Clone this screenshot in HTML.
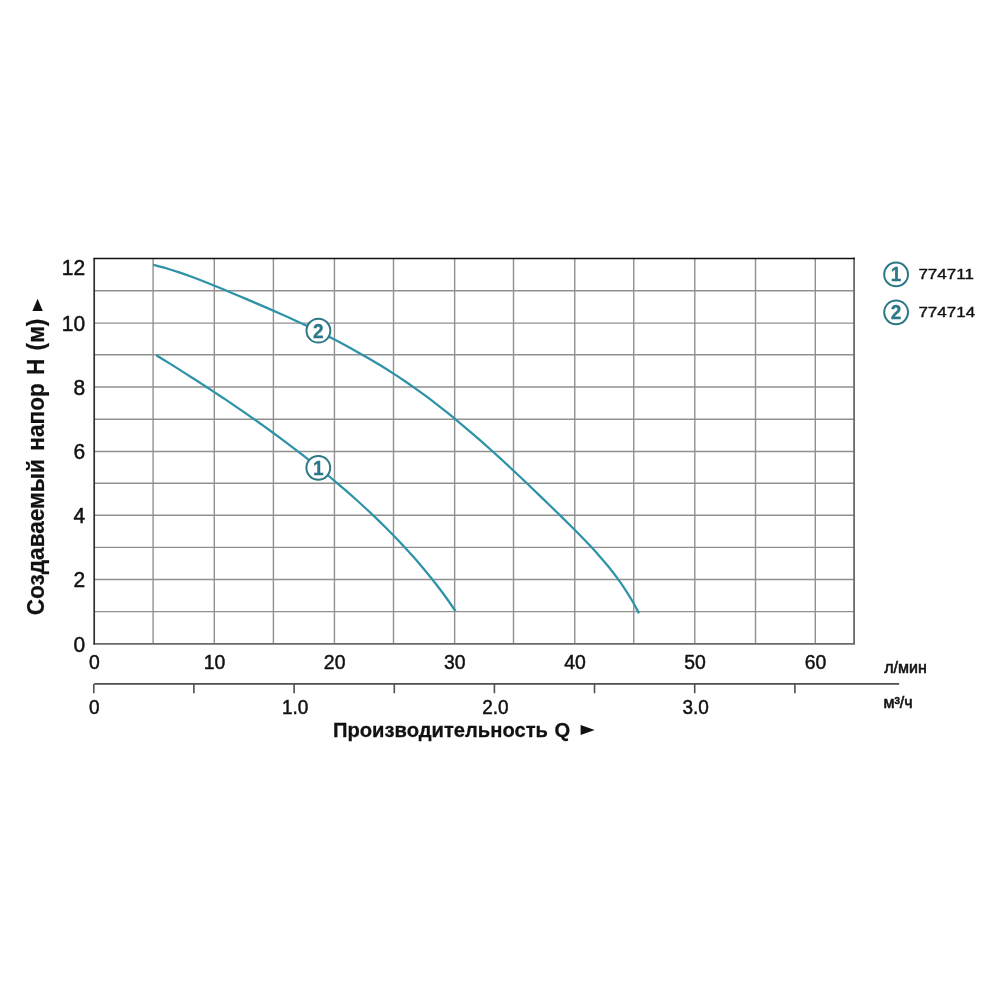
<!DOCTYPE html><html><head><meta charset="utf-8"><title>Chart</title><style>html,body{margin:0;padding:0;background:#fff}svg{display:block}text{font-family:"Liberation Sans",Arial,sans-serif}</style></head><body>
<svg width="1000" height="1000" viewBox="0 0 1000 1000">
<rect width="1000" height="1000" fill="#fff"/>
<path d="M153.10 258.5V643.8M214.30 258.5V643.8M273.40 258.5V643.8M334.45 258.5V643.8M393.50 258.5V643.8M454.65 258.5V643.8M513.50 258.5V643.8M574.75 258.5V643.8M633.75 258.5V643.8M694.80 258.5V643.8M755.50 258.5V643.8M815.30 258.5V643.8M94.2 290.70H854.0M94.2 323.10H854.0M94.2 354.80H854.0M94.2 387.00H854.0M94.2 419.20H854.0M94.2 451.45H854.0M94.2 483.20H854.0M94.2 515.20H854.0M94.2 547.40H854.0M94.2 579.50H854.0M94.2 611.60H854.0" stroke="#909090" stroke-width="1.4" fill="none"/>
<path d="M94.2 643.8H854.1V258.5" fill="none" stroke="#6a6a6a" stroke-width="1.8" stroke-linejoin="miter" stroke-linecap="square"/>
<path d="M94.2 644.5999999999999V258.5" fill="none" stroke="#303030" stroke-width="1.7"/>
<path d="M93.35000000000001 258.5H854.9" fill="none" stroke="#111" stroke-width="1.6"/>
<path d="M94.2 683.9H899.2M93.8 683.9V693.2M193.9 683.9V693.2M294.1 683.9V693.2M394.3 683.9V693.2M494.4 683.9V693.2M594.5 683.9V693.2M694.7 683.9V693.2M794.9 683.9V693.2" stroke="#505050" stroke-width="1.6" fill="none"/>
<path d="M153.14 264.72C155.31 265.30 161.83 266.95 166.18 268.22C170.53 269.49 174.88 270.88 179.22 272.34C183.57 273.79 187.92 275.36 192.26 276.96C196.60 278.57 200.94 280.26 205.28 281.97C209.61 283.69 213.94 285.47 218.27 287.25C222.59 289.03 226.92 290.86 231.23 292.67C235.54 294.49 239.84 296.31 244.14 298.14C248.44 299.96 252.72 301.78 257.00 303.61C261.28 305.45 265.54 307.29 269.80 309.14C274.05 311.00 278.30 312.86 282.53 314.75C286.75 316.64 290.97 318.54 295.17 320.47C299.37 322.40 303.56 324.35 307.73 326.34C311.90 328.32 316.05 330.33 320.19 332.38C324.32 334.42 328.44 336.49 332.54 338.60C336.64 340.71 340.72 342.84 344.77 345.02C348.83 347.20 352.87 349.40 356.88 351.65C360.90 353.90 364.89 356.18 368.86 358.50C372.82 360.82 376.77 363.18 380.69 365.58C384.60 367.99 388.50 370.43 392.36 372.91C396.23 375.40 400.07 377.92 403.88 380.50C407.69 383.07 411.47 385.69 415.22 388.35C418.97 391.01 422.69 393.72 426.39 396.47C430.09 399.22 433.75 402.02 437.40 404.85C441.05 407.68 444.67 410.56 448.28 413.46C451.89 416.37 455.48 419.31 459.05 422.28C462.62 425.25 466.18 428.26 469.72 431.29C473.26 434.32 476.78 437.38 480.29 440.45C483.79 443.53 487.29 446.64 490.76 449.76C494.24 452.88 497.70 456.03 501.15 459.19C504.59 462.35 508.02 465.52 511.44 468.71C514.86 471.89 518.26 475.09 521.64 478.30C525.03 481.50 528.40 484.72 531.76 487.94C535.12 491.15 538.46 494.38 541.79 497.60C545.12 500.82 548.44 504.05 551.74 507.27C555.04 510.49 558.33 513.70 561.61 516.91C564.88 520.13 568.15 523.32 571.38 526.54C574.61 529.76 577.83 532.98 581.00 536.24C584.18 539.49 587.32 542.76 590.42 546.08C593.51 549.40 596.57 552.75 599.56 556.16C602.55 559.58 605.50 563.03 608.37 566.58C611.24 570.12 614.05 573.71 616.78 577.41C619.51 581.11 622.17 584.87 624.74 588.76C627.31 592.64 629.80 596.60 632.18 600.70C634.56 604.80 637.90 611.23 639.04 613.34" stroke="#2e92a8" stroke-width="2.25" fill="none"/>
<path d="M156.27 355.18C158.20 356.38 164.01 359.96 167.87 362.37C171.73 364.78 175.59 367.20 179.44 369.63C183.30 372.07 187.14 374.51 190.98 376.97C194.82 379.42 198.66 381.89 202.48 384.37C206.31 386.85 210.13 389.35 213.93 391.86C217.74 394.37 221.54 396.89 225.33 399.43C229.12 401.98 232.91 404.53 236.67 407.10C240.44 409.68 244.20 412.26 247.95 414.87C251.70 417.48 255.43 420.10 259.15 422.74C262.87 425.39 266.58 428.05 270.28 430.73C273.97 433.41 277.65 436.11 281.32 438.83C284.98 441.55 288.63 444.29 292.27 447.05C295.90 449.81 299.52 452.59 303.12 455.40C306.72 458.20 310.31 461.03 313.87 463.88C317.43 466.73 320.98 469.60 324.51 472.50C328.04 475.40 331.55 478.32 335.03 481.27C338.52 484.22 341.99 487.19 345.43 490.19C348.88 493.19 352.30 496.21 355.70 499.26C359.11 502.31 362.49 505.39 365.84 508.50C369.19 511.61 372.52 514.74 375.82 517.91C379.12 521.07 382.39 524.26 385.63 527.49C388.86 530.71 392.07 533.97 395.24 537.25C398.41 540.54 401.55 543.85 404.65 547.20C407.74 550.55 410.80 553.93 413.82 557.34C416.84 560.76 419.81 564.21 422.74 567.69C425.67 571.17 428.56 574.69 431.40 578.24C434.24 581.79 437.03 585.38 439.77 589.00C442.51 592.62 445.20 596.28 447.83 599.98C450.47 603.68 454.28 609.32 455.57 611.18" stroke="#2e92a8" stroke-width="2.25" fill="none"/>
<circle cx="318.4" cy="330.7" r="11.9" fill="#fff" stroke="#2b7886" stroke-width="2"/><text transform="translate(318.40 337.60) scale(1 1.045)" font-size="19" text-anchor="middle" font-weight="bold" fill="#2b7886" stroke="#2b7886" stroke-width="0.3">2</text>
<circle cx="318.3" cy="467.8" r="11.9" fill="#fff" stroke="#2b7886" stroke-width="2"/><text transform="translate(318.30 474.70) scale(1 1.045)" font-size="19" text-anchor="middle" font-weight="bold" fill="#2b7886" stroke="#2b7886" stroke-width="0.3">1</text>
<circle cx="896.1" cy="274.4" r="11.9" fill="#fff" stroke="#2b7886" stroke-width="2"/><text transform="translate(896.10 281.30) scale(1 1.045)" font-size="19" text-anchor="middle" font-weight="bold" fill="#2b7886" stroke="#2b7886" stroke-width="0.3">1</text>
<circle cx="896.1" cy="312.3" r="11.9" fill="#fff" stroke="#2b7886" stroke-width="2"/><text transform="translate(896.10 319.20) scale(1 1.045)" font-size="19" text-anchor="middle" font-weight="bold" fill="#2b7886" stroke="#2b7886" stroke-width="0.3">2</text>
<text transform="translate(918.40 279.30) scale(1 0.895)" font-size="17" fill="#111" stroke="#111" stroke-width="0.45">774711</text>
<text transform="translate(918.40 317.20) scale(1 0.895)" font-size="17" fill="#111" stroke="#111" stroke-width="0.45">774714</text>
<text transform="translate(85.20 275.20) scale(1 1.045)" font-size="21" text-anchor="end" fill="#111" stroke="#111" stroke-width="0.45">12</text>
<text transform="translate(85.20 330.80) scale(1 1.045)" font-size="21" text-anchor="end" fill="#111" stroke="#111" stroke-width="0.45">10</text>
<text transform="translate(85.20 394.70) scale(1 1.045)" font-size="21" text-anchor="end" fill="#111" stroke="#111" stroke-width="0.45">8</text>
<text transform="translate(85.20 459.15) scale(1 1.045)" font-size="21" text-anchor="end" fill="#111" stroke="#111" stroke-width="0.45">6</text>
<text transform="translate(85.20 522.90) scale(1 1.045)" font-size="21" text-anchor="end" fill="#111" stroke="#111" stroke-width="0.45">4</text>
<text transform="translate(85.20 587.20) scale(1 1.045)" font-size="21" text-anchor="end" fill="#111" stroke="#111" stroke-width="0.45">2</text>
<text transform="translate(85.20 651.50) scale(1 1.045)" font-size="21" text-anchor="end" fill="#111" stroke="#111" stroke-width="0.45">0</text>
<text transform="translate(94.40 668.90) scale(1 1.045)" font-size="19.4" text-anchor="middle" fill="#111" stroke="#111" stroke-width="0.45">0</text>
<text transform="translate(214.50 668.90) scale(1 1.045)" font-size="19.4" text-anchor="middle" fill="#111" stroke="#111" stroke-width="0.45">10</text>
<text transform="translate(334.65 668.90) scale(1 1.045)" font-size="19.4" text-anchor="middle" fill="#111" stroke="#111" stroke-width="0.45">20</text>
<text transform="translate(454.85 668.90) scale(1 1.045)" font-size="19.4" text-anchor="middle" fill="#111" stroke="#111" stroke-width="0.45">30</text>
<text transform="translate(574.95 668.90) scale(1 1.045)" font-size="19.4" text-anchor="middle" fill="#111" stroke="#111" stroke-width="0.45">40</text>
<text transform="translate(695.00 668.90) scale(1 1.045)" font-size="19.4" text-anchor="middle" fill="#111" stroke="#111" stroke-width="0.45">50</text>
<text transform="translate(815.50 668.90) scale(1 1.045)" font-size="19.4" text-anchor="middle" fill="#111" stroke="#111" stroke-width="0.45">60</text>
<text transform="translate(94.40 713.70) scale(1 1.045)" font-size="19" text-anchor="middle" fill="#111" stroke="#111" stroke-width="0.45">0</text>
<text transform="translate(295.10 713.70) scale(1 1.045)" font-size="19" text-anchor="middle" fill="#111" stroke="#111" stroke-width="0.45">1.0</text>
<text transform="translate(495.40 713.70) scale(1 1.045)" font-size="19" text-anchor="middle" fill="#111" stroke="#111" stroke-width="0.45">2.0</text>
<text transform="translate(695.70 713.70) scale(1 1.045)" font-size="19" text-anchor="middle" fill="#111" stroke="#111" stroke-width="0.45">3.0</text>
<text transform="translate(884.20 673.10) scale(1 1.045)" font-size="16" fill="#111" stroke="#111" stroke-width="0.6">л/мин</text>
<text transform="translate(883.40 708.30) scale(1 1.045)" font-size="16" fill="#111" stroke="#111" stroke-width="0.6">м³/ч</text>
<text transform="translate(332.90 736.60) scale(1 1.045)" font-size="20.2" font-weight="bold" word-spacing="0.8" fill="#111" stroke="#111" stroke-width="0.25">Производительность Q</text>
<path d="M580.6 725L594.7 730L580.6 735Z" fill="#111"/>
<text transform="translate(43.60 615.30) rotate(-90) scale(1 1.045)" font-size="22.6" font-weight="bold" word-spacing="2.0" fill="#111" stroke="#111" stroke-width="0.2">Создаваемый напор H (м)</text>
<path d="M32.4 311L37.6 298.8L42.8 311Z" fill="#111"/>
</svg></body></html>
